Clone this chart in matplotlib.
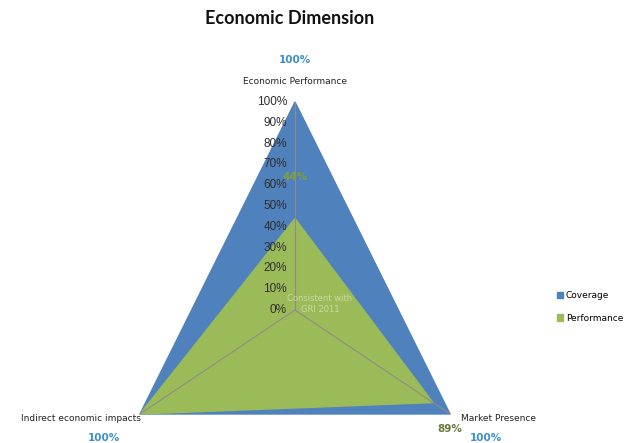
import numpy as np
import matplotlib
matplotlib.use("Agg")
import matplotlib.pyplot as plt

categories = ["Economic Performance", "Market Presence", "Indirect economic impacts"]
coverage = [100, 100, 100]
performance = [44, 89, 100]
ticks = [0, 10, 20, 30, 40, 50, 60, 70, 80, 90, 100]

blue = "#4F81BD"
green = "#9BBB59"

# angles: top, bottom right, bottom left
angles = np.deg2rad([90, -30, 210])


def to_xy(vals):
    r = np.array(vals) / 100.0
    return r * np.cos(angles), r * np.sin(angles)


W, H = 628, 443
cx, cy, ry = 295, 310, 208
rx = 179
fig = plt.figure(figsize=(W / 100, H / 100), dpi=100)
ax = fig.add_axes([0, 0, 1, 1])
ax.set_xlim(-cx / rx, (W - cx) / rx)
ax.set_ylim(-(H - cy) / ry, cy / ry)
ax.axis("off")

xc, yc = to_xy(coverage)
xp, yp = to_xy(performance)
ax.fill(xc, yc, color=blue, zorder=2, label="Coverage")
ax.fill(xp, yp, color=green, zorder=3, label="Performance")

# spokes
for a in angles:
    ax.plot([0, np.cos(a)], [0, np.sin(a)], color="#8c8c8c", lw=0.8, zorder=4)

# radial tick labels
for t in ticks:
    ax.text(-0.045, t / 100.0, f"{t}%", ha="right", va="center", fontsize=8.5,
            color="#2e2e2e", family="Liberation Sans", zorder=5)

# category labels
ax.text(0, 1.1, categories[0], ha="center", va="center", fontsize=6.5, color="#222222", zorder=5)
ax.text(np.cos(angles[1]) + 0.27, np.sin(angles[1]) - 0.02, categories[1], ha="center",
        va="center", fontsize=6.5, color="#222222", zorder=5)
ax.text(np.cos(angles[2]) - 0.33, np.sin(angles[2]) - 0.02, categories[2], ha="center",
        va="center", fontsize=6.5, color="#222222", zorder=5)

# coverage value labels
lab_blue = "#3d8fd1"
ax.text(0, 1.2, f"{coverage[0]}%", ha="center", va="center", fontsize=7.5,
        color=lab_blue, fontweight="bold", zorder=5)
ax.text(np.cos(angles[1]) + 0.2, np.sin(angles[1]) - 0.115, f"{coverage[1]}%", ha="center",
        va="center", fontsize=7.5, color=lab_blue, fontweight="bold", zorder=5)
ax.text(np.cos(angles[2]) - 0.2, np.sin(angles[2]) - 0.115, f"{coverage[2]}%", ha="center",
        va="center", fontsize=7.5, color=lab_blue, fontweight="bold", zorder=5)

# performance value labels
ax.text(0.0, 0.64, f"{performance[0]}%", ha="center", va="center", fontsize=7.5,
        color="#7f9f3a", fontweight="bold", zorder=5)
ax.text(np.cos(angles[1]) - 0.0, np.sin(angles[1]) - 0.07, f"{performance[1]}%", ha="center",
        va="center", fontsize=7.5, color="#6b7a3a", fontweight="bold", zorder=6)

# faint watermark text in the centre
ax.text(0.14, 0.03, "Consistent with\nGRI 2011", ha="center", va="center", fontsize=6,
        color="white", alpha=0.45, zorder=6, linespacing=1.3)

ax.text(-0.03, cy / ry - 18 / ry, "Economic Dimension", ha="center", va="center", fontsize=13,
        fontweight="bold", family="Lato", color="#111111")

leg = ax.legend(loc="center left", bbox_to_anchor=(553 / W, 1 - 307 / H), frameon=False,
                fontsize=6.5, handlelength=0.7, handleheight=0.7, handletextpad=0.3,
                labelspacing=1.5, borderaxespad=0)

fig.savefig("out.png", dpi=100)
